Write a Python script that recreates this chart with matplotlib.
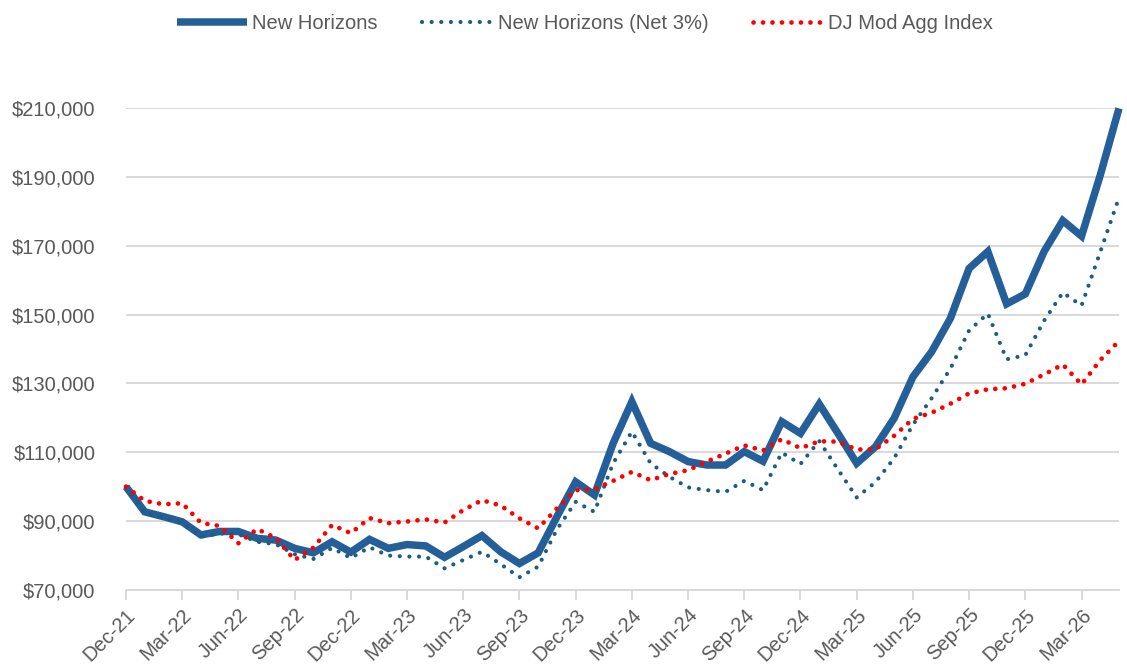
import matplotlib
matplotlib.use("Agg")
import matplotlib.pyplot as plt
from matplotlib.ticker import FuncFormatter
from matplotlib import font_manager

# Month-end labels, Dec-21 through May-26
months = ["Dec-21", "Jan-22", "Feb-22", "Mar-22", "Apr-22", "May-22", "Jun-22", "Jul-22", "Aug-22",
          "Sep-22", "Oct-22", "Nov-22", "Dec-22", "Jan-23", "Feb-23", "Mar-23", "Apr-23", "May-23",
          "Jun-23", "Jul-23", "Aug-23", "Sep-23", "Oct-23", "Nov-23", "Dec-23", "Jan-24", "Feb-24",
          "Mar-24", "Apr-24", "May-24", "Jun-24", "Jul-24", "Aug-24", "Sep-24", "Oct-24", "Nov-24",
          "Dec-24", "Jan-25", "Feb-25", "Mar-25", "Apr-25", "May-25", "Jun-25", "Jul-25", "Aug-25",
          "Sep-25", "Oct-25", "Nov-25", "Dec-25", "Jan-26", "Feb-26", "Mar-26", "Apr-26", "May-26"]

new_horizons = [100000, 92700, 91300, 89800, 86000, 87000, 87000, 85000, 84500, 82100,
                80800, 84000, 81000, 84700, 82100, 83200, 82800, 79500, 82600, 85800,
                81100, 77700, 80800, 91300, 101400, 97600, 112600, 124700, 112600, 110200,
                107300, 106300, 106300, 110200, 107400, 118900, 115500, 124000, 115500, 106800,
                111600, 119900, 131900, 139200, 148900, 163400, 168300, 153100, 156000, 168300,
                177300, 172800, 190500, 209900]

net_3pct = [100000, 92400, 91000, 89400, 85500, 86400, 86200, 84000, 83300, 80400,
            79000, 82200, 79300, 82400, 80000, 79700, 79700, 76300, 78700, 81100,
            77500, 73700, 76800, 87600, 95600, 92700, 106800, 116000, 106800, 102900,
            99800, 99000, 98500, 101700, 99000, 109900, 106600, 113300, 105000, 96900,
            101300, 108300, 118000, 125700, 134300, 145400, 150300, 137000, 138200, 148200,
            156400, 152600, 168200, 184000]

dj_mod_agg = [100000, 95900, 94900, 95200, 89500, 88600, 83600, 87700, 85100, 78700,
              82300, 88900, 86500, 90900, 89400, 89900, 90500, 89600, 93200, 96100,
              94500, 90800, 87900, 93700, 99000, 99300, 101700, 104300, 101900, 103700,
              104800, 107300, 109600, 112000, 110500, 113800, 111200, 113200, 113100, 110800,
              110900, 114800, 119700, 121500, 124100, 127100, 128300, 128600, 129900, 132600,
              135500, 129700, 136800, 142300]

tick_every = 3
y_ticks = list(range(70000, 210001, 20000))

installed = {f.name for f in font_manager.fontManager.ttflist}
family = "Liberation Sans Narrow" if "Liberation Sans Narrow" in installed else "Liberation Sans"
plt.rcParams["font.family"] = [family, "DejaVu Sans"]

text_color = "#595959"
grid_color = "#d9d9d9"

fig = plt.figure(figsize=(11.27, 6.67), dpi=100)
ax = fig.add_axes([126 / 1127, 77 / 667, (1119 - 126) / 1127, (590 - 108) / 667])

x = list(range(len(months)))

ax.plot(x, new_horizons, color="#245F99", lw=5.4, solid_joinstyle="miter",
        solid_capstyle="butt", label="New Horizons", zorder=3, clip_on=False)
ax.plot(x, net_3pct, color="#1B5E80", lw=3.0, linestyle=(0, (0.01, 2.3)),
        dash_capstyle="round", label="New Horizons (Net 3%)", zorder=4, clip_on=False)
ax.plot(x, dj_mod_agg, color="#FF0000", lw=3.4, linestyle=(0, (0.01, 2.0)),
        dash_capstyle="round", label="DJ Mod Agg Index", zorder=5, clip_on=False)

ax.set_xlim(0, len(months) - 1)
ax.set_ylim(70000, 210000)
ax.set_yticks(y_ticks)
ax.yaxis.set_major_formatter(FuncFormatter(lambda v, p: f"${v:,.0f}"))

tick_pos = x[::tick_every]
ax.set_xticks(tick_pos)
ax.set_xticklabels([months[i] for i in tick_pos], rotation=45, ha="right", va="top",
                   rotation_mode="anchor")

ax.grid(axis="y", color=grid_color, lw=1.4)
ax.set_axisbelow(True)
for side in ["top", "right", "left"]:
    ax.spines[side].set_visible(False)
ax.spines["bottom"].set_color(grid_color)
ax.spines["bottom"].set_linewidth(1.4)
ax.tick_params(axis="y", length=0, pad=22, labelsize=14.5, labelcolor=text_color)
ax.tick_params(axis="x", length=7, width=1.4, color=grid_color, pad=4,
               labelsize=14.5, labelcolor=text_color)

fig.legend(loc="upper center", bbox_to_anchor=(0.519, 1.006), ncol=3, frameon=False,
           fontsize=14.5, labelcolor=text_color, handlelength=3.5, handletextpad=0.25,
           columnspacing=2.2)

fig.savefig("out.png", dpi=100)
